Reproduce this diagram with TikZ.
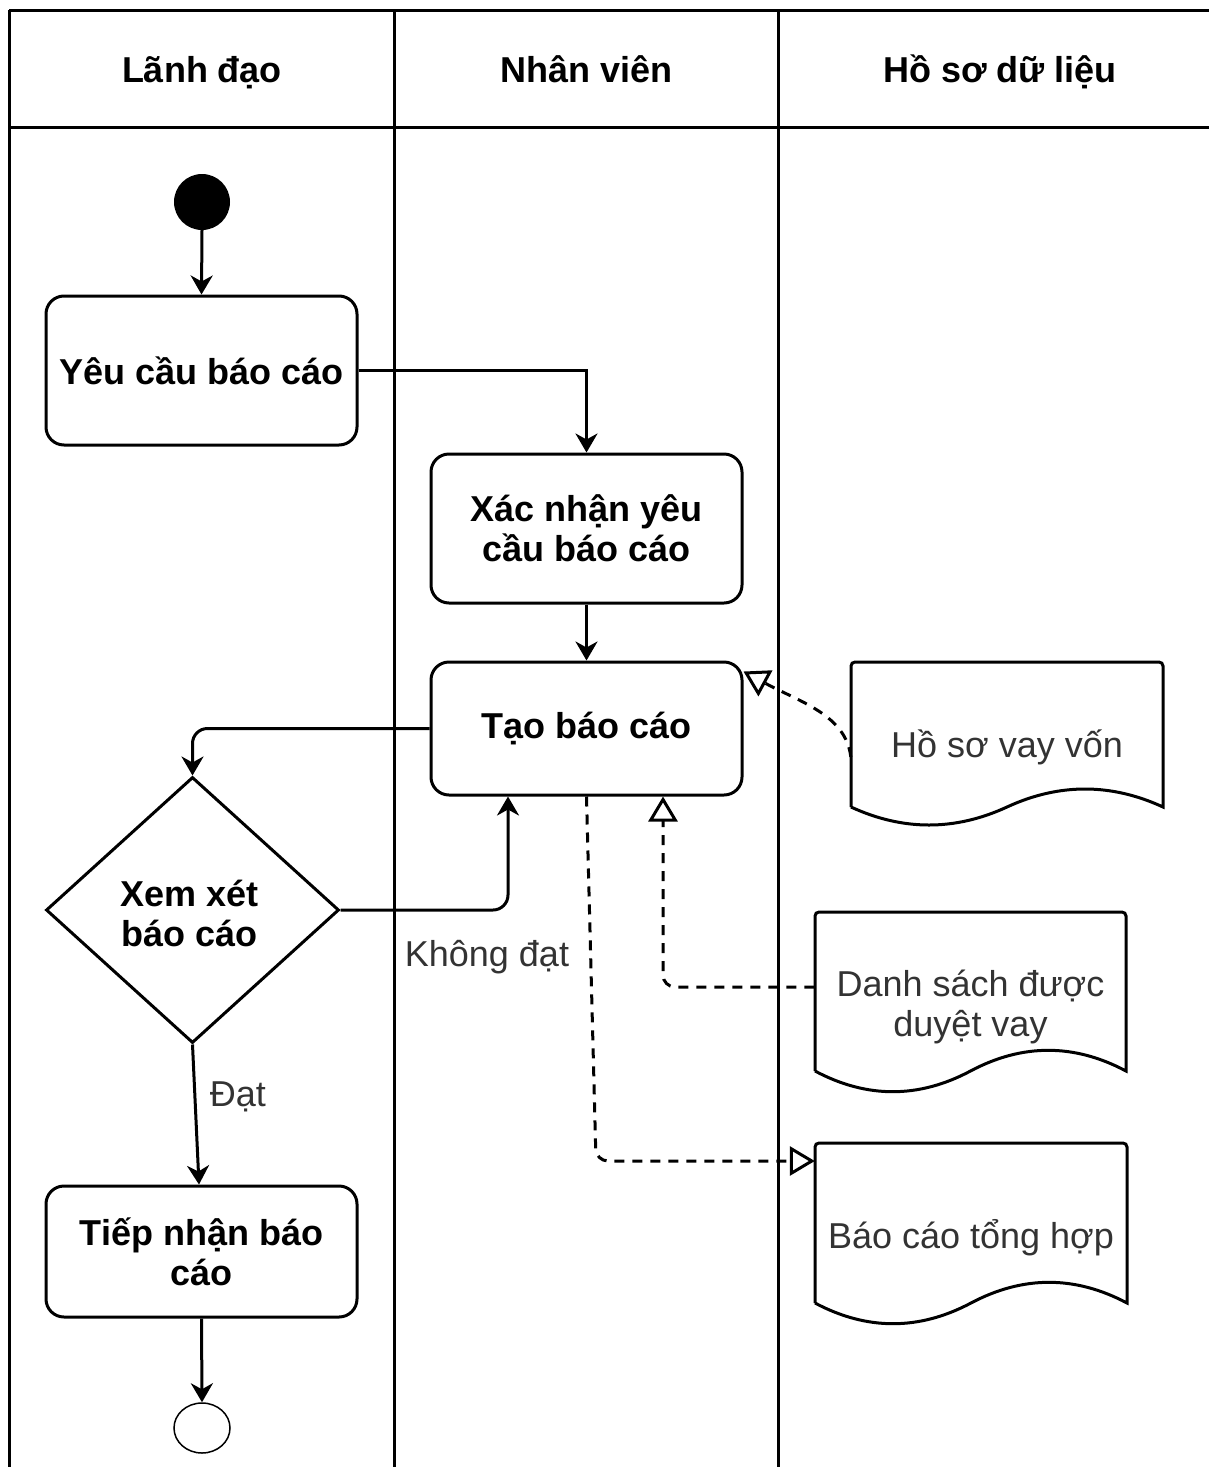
\documentclass[tikz,border=0pt]{standalone}
\usepackage{fontspec}
\setmainfont{Liberation Sans}
\usetikzlibrary{arrows.meta,shapes.geometric,calc}
\definecolor{txt}{HTML}{333333}
\begin{document}
\begin{tikzpicture}[x=1pt,y=-1pt,
  lane/.style={line width=3pt},
  hdr/.style={font=\fontsize{36}{40}\selectfont\bfseries, inner sep=0pt, anchor=base},
  act/.style={draw, line width=3pt, rounded corners=18pt, minimum width=311pt, inner sep=0pt, align=center, font=\fontsize{36}{40}\selectfont\bfseries},
  dia/.style={draw, diamond, line width=3pt, minimum width=293pt, minimum height=266pt, inner sep=0pt},
  boldtxt/.style={align=center, inner sep=0pt, font=\fontsize{36}{40}\selectfont\bfseries},
  doc/.style={minimum width=312pt, inner sep=0pt, align=center, text=txt, font=\fontsize{36}{40}\selectfont},
  docline/.style={line width=3pt},
  lbl/.style={inner sep=0pt, text=txt, font=\fontsize{36}{40}\selectfont},
  arr/.style={line width=3pt, -{Stealth[length=19pt,width=22pt,inset=6pt]}},
  dsh/.style={line width=3pt, dash pattern=on 10pt off 8pt, -{Triangle[open,length=25pt,width=29pt]}}
]
\useasboundingbox (0,0) rectangle (1209,1467);

% swimlanes
\draw[lane] (9,10) -- (1209,10);
\draw[lane] (9,127) -- (1209,127);
\draw[lane] (9,10) -- (9,1467);
\draw[lane] (394,10) -- (394,1467);
\draw[lane] (778,10) -- (778,1467);
\node[hdr] (h1) at (202,82) {Lãnh đạo};
\node[hdr] (h2) at (587,82) {Nhân viên};
\node[hdr] (h3) at (1000,82) {Hồ sơ dữ liệu};

% activities
\node[circle, fill=black, minimum size=56pt, inner sep=0pt] (start) at (202,202) {};
\node[act, minimum height=149pt] (yeu) at (201.5,370.5) {Yêu cầu báo cáo};
\node[act, minimum height=149pt] (xac) at (586.5,528.5) {Xác nhận yêu\\cầu báo cáo};
\node[act, minimum height=133pt] (tao) at (586.5,728.5) {\raisebox{-3pt}{Tạo báo cáo}};
\node[dia] (xem) at (192.5,910) {};
\node[boldtxt] (xemt) at (190,913) {Xem xét\\báo cáo};
\node[act, minimum height=131pt] (tiep) at (201.5,1251.5) {Tiếp nhận báo\\cáo};
\node[ellipse, draw, line width=1.5pt, minimum width=56pt, minimum height=50pt, inner sep=0pt] (end) at (202,1428) {};

% documents
\draw[docline] (851,807) [rounded corners=4pt] -- (851,662) -- (1163,662) [sharp corners] -- (1163,807)
  .. controls (1111,783) and (1059,783) .. (1007,807)
  .. controls (955,831) and (903,831) .. (851,807);
\node[doc, minimum height=165pt] (hoso) at (1007,747) {Hồ sơ vay vốn};

\draw[docline] (815,1071) [rounded corners=4pt] -- (815,912) -- (1126,912) [sharp corners] -- (1126,1071)
  .. controls (1074.2,1043.4) and (1022.3,1043.4) .. (970.5,1071)
  .. controls (918.7,1098.6) and (866.8,1098.6) .. (815,1071);
\node[doc, minimum height=182pt] (danh) at (970.5,1007) {Danh sách được\\duyệt vay};

\draw[docline] (815,1303) [rounded corners=4pt] -- (815,1143) -- (1127,1143) [sharp corners] -- (1127,1303)
  .. controls (1075,1275.4) and (1023,1275.4) .. (971,1303)
  .. controls (919,1330.6) and (867,1330.6) .. (815,1303);
\node[doc, minimum height=183pt] (bao) at (971,1237.5) {Báo cáo tổng hợp};

% labels
\node[lbl] (khong) at (487,957) {Không đạt};
\node[lbl] (dat) at (238,1097) {Đạt};

% connectors
\draw[arr] (start.south) -- (yeu.north);
\draw[arr] (yeu.east) -| (xac.north);
\draw[arr] (xac.south) -- (tao.north);
\draw[arr, rounded corners=15pt] (tao.west) -| (xem.north);
\draw[arr, rounded corners=15pt] (xem.east) -| ([xshift=-78.5pt]tao.south);
\draw[arr] (xem.south) -- ([xshift=-2.5pt]tiep.north);
\draw[arr] (tiep.south) -- (end.north);

\draw[dsh] ([yshift=-10pt]hoso.west) .. controls (846,715) and (800,702) .. ([yshift=-11pt]tao.north east);
\draw[dsh, rounded corners=12pt] ([yshift=20pt]danh.west) -| ([xshift=76.5pt]tao.south);
\coordinate (bend) at (596,1161);
\draw[dsh, rounded corners=12pt] (tao.south) -- (bend) -- ([yshift=76.5pt]bao.west);
\end{tikzpicture}
\end{document}
